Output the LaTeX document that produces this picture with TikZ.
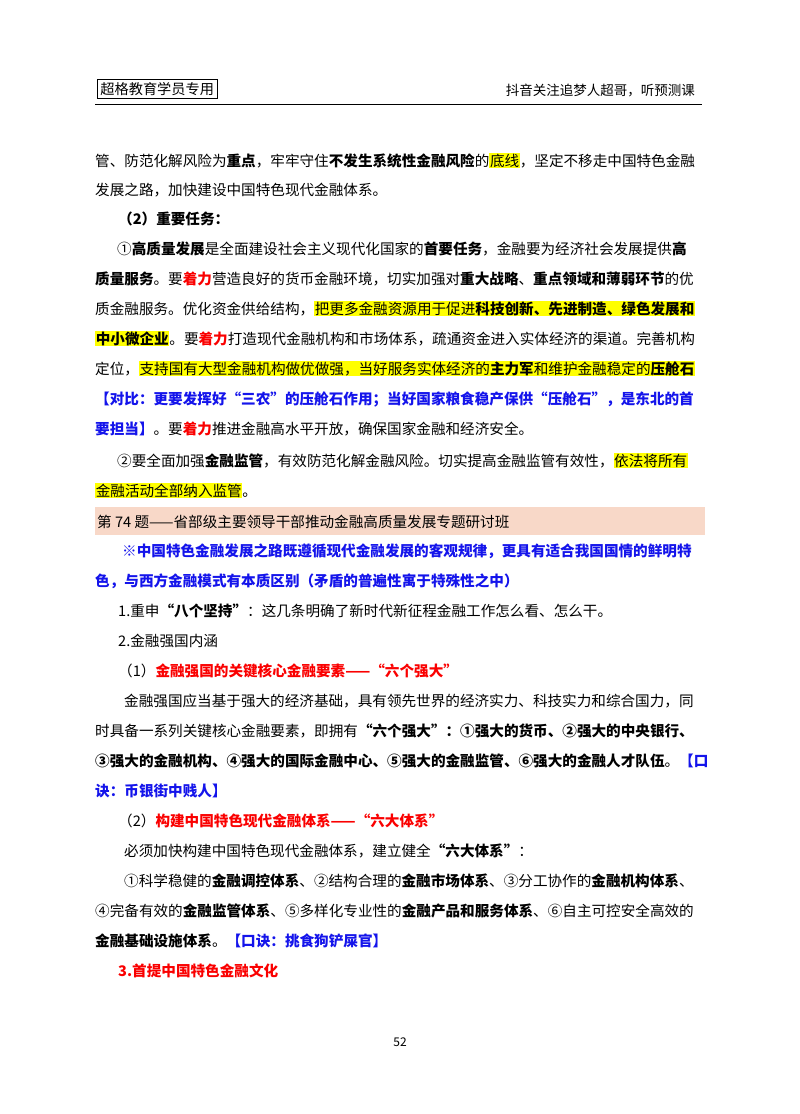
\documentclass[tikz,border=0pt]{standalone}
\usepackage{fontspec}
\setmainfont{Noto Sans CJK SC}
\XeTeXlinebreaklocale "zh"
\XeTeXlinebreakskip=0pt plus 4pt
\definecolor{hly}{RGB}{255,255,0}
\definecolor{tblue}{RGB}{20,20,235}
\definecolor{tred}{RGB}{250,0,0}
\definecolor{pinkband}{RGB}{248,216,200}
\newcommand\hlt[1]{{\setlength\fboxsep{0.6pt}\colorbox{hly}{#1}}}
\newcommand\rb[1]{\textbf{\color{tred}#1}}
\newcommand\bb[1]{\textbf{\color{tblue}#1}}
\tikzset{ln/.style={anchor=base west,inner sep=0pt,font=\fontsize{14.6pt}{16pt}\selectfont}}
\begin{document}
\begin{tikzpicture}[x=1pt,y=1pt]
\fill[white] (0,0) rectangle (800,-1114);
\useasboundingbox (0,0) rectangle (800,-1114);
% header
\node[draw,fill=white,inner xsep=3pt,inner ysep=2.5pt,anchor=west,font=\fontsize{14.2pt}{16pt}\selectfont,line width=0.8pt] (hdl) at (97,-89) {超格教育学员专用};
\node[anchor=east,inner sep=0pt,font=\fontsize{13.5pt}{15pt}\selectfont] (hdr) at (695,-90) {抖音关注追梦人超哥，听预测课};
\draw[line width=0.8pt] (95,-104.5) -- (702,-104.5);
% body
\node[ln] (l1) at (95,-166) {\hbox to 608pt{管、防范化解风险为\textbf{重点}，牢牢守住\textbf{不发生系统性金融风险}的\hlt{底线}，坚定不移走中国特色金融}};
\node[ln] (l2) at (95,-195) {发展之路，加快建设中国特色现代金融体系。};
\node[ln] (l3) at (118,-224) {\textbf{（2）重要任务：}};
\node[ln] (l4) at (117,-254) {\hbox to 586pt{①\textbf{高质量发展}是全面建设社会主义现代化国家的\textbf{首要任务}，金融要为经济社会发展提供\textbf{高}}};
\node[ln] (l5) at (95,-284) {\hbox to 608pt{\textbf{质量服务}。要\rb{着力}营造良好的货币金融环境，切实加强对\textbf{重大战略}、\textbf{重点领域和薄弱环节}的优}};
\node[ln] (l6) at (95,-314) {\hbox to 608pt{质金融服务。优化资金供给结构，\hlt{把更多金融资源用于促进\textbf{科技创新、先进制造、绿色发展和}}}};
\node[ln] (l7) at (95,-344) {\hbox to 608pt{\hlt{\textbf{中小微企业}}。要\rb{着力}打造现代金融机构和市场体系，疏通资金进入实体经济的渠道。完善机构}};
\node[ln] (l8) at (95,-374) {\hbox to 608pt{定位，\hlt{支持国有大型金融机构做优做强，当好服务实体经济的\textbf{主力军}和维护金融稳定的\textbf{压舱石}}}};
\node[ln] (l9) at (95,-404) {\hbox to 608pt{\bb{【对比：更要发挥好“三农”的压舱石作用；当好国家粮食稳产保供“压舱石”，是东北的首}}};
\node[ln] (l10) at (95,-434) {\bb{要担当】}。要\rb{着力}推进金融高水平开放，确保国家金融和经济安全。};
\node[ln] (l11) at (117,-466) {\hbox to 586pt{②要全面加强\textbf{金融监管}，有效防范化解金融风险。切实提高金融监管有效性，\hlt{依法将所有}}};
\node[ln] (l12) at (95,-496) {\hlt{金融活动全部纳入监管}。};
\fill[pinkband] (95,-507) rectangle (705,-535);
\node[ln] (l13) at (97,-527) {第 74 题——省部级主要领导干部推动金融高质量发展专题研讨班};
\node[ln] (l14) at (122,-556) {\hbox to 581pt{\bb{※中国特色金融发展之路既遵循现代金融发展的客观规律，更具有适合我国国情的鲜明特}}};
\node[ln] (l15) at (95,-586) {\bb{色，与西方金融模式有本质区别（矛盾的普遍性寓于特殊性之中）}};
\node[ln] (l16) at (118,-616) {1.重申\textbf{“八个坚持”}：这几条明确了新时代新征程金融工作怎么看、怎么干。};
\node[ln] (l17) at (118,-646) {2.金融强国内涵};
\node[ln] (l18) at (118,-676) {（1）\rb{金融强国的关键核心金融要素——“六个强大”}};
\node[ln] (l19) at (124,-706) {\hbox to 579pt{金融强国应当基于强大的经济基础，具有领先世界的经济实力、科技实力和综合国力，同}};
\node[ln] (l20) at (95,-736) {\hbox to 608pt{时具备一系列关键核心金融要素，即拥有\textbf{“六个强大”：①强大的货币、②强大的中央银行、}}};
\node[ln] (l21) at (95,-766) {\hbox to 608pt{\textbf{③强大的金融机构、④强大的国际金融中心、⑤强大的金融监管、⑥强大的金融人才队伍}。\bb{【口}}};
\node[ln] (l22) at (95,-796) {\bb{诀：币银街中贱人】}};
\node[ln] (l23) at (118,-826) {（2）\rb{构建中国特色现代金融体系——“六大体系”}};
\node[ln] (l24) at (124,-856) {必须加快构建中国特色现代金融体系，建立健全\textbf{“六大体系”}：};
\node[ln] (l25) at (124,-886) {\hbox to 579pt{①科学稳健的\textbf{金融调控体系}、②结构合理的\textbf{金融市场体系}、③分工协作的\textbf{金融机构体系}、}};
\node[ln] (l26) at (95,-916) {\hbox to 608pt{④完备有效的\textbf{金融监管体系}、⑤多样化专业性的\textbf{金融产品和服务体系}、⑥自主可控安全高效的}};
\node[ln] (l27) at (95,-946) {\textbf{金融基础设施体系}。\bb{【口诀：挑食狗铲屎官】}};
\node[ln] (l28) at (118,-976) {\rb{3.首提中国特色金融文化}};
\node[inner sep=0pt,font=\fontsize{12pt}{14pt}\selectfont] (pg) at (400,-1042) {52};
\end{tikzpicture}
\end{document}
